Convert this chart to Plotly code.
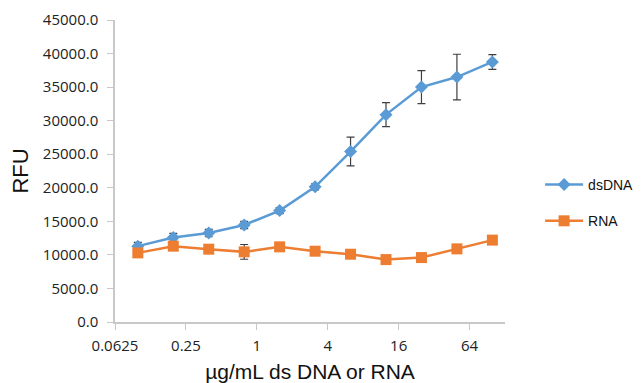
import plotly.graph_objects as go

conc = [0.09765625, 0.1953125, 0.390625, 0.78125, 1.5625, 3.125, 6.25, 12.5, 25, 50, 100]
dsdna = [11300, 12600, 13250, 14450, 16600, 20150, 25400, 30900, 35000, 36500, 38750]
dsdna_err = [550, 600, 550, 550, 450, 450, 2150, 1800, 2450, 3400, 1100]
rna = [10300, 11300, 10850, 10450, 11200, 10550, 10100, 9300, 9600, 10900, 12200]
rna_err = [300, 300, 300, 1100, 300, 300, 300, 550, 300, 300, 300]

xticks = [0.0625, 0.25, 1, 4, 16, 64]
xticklabels = ["0.0625", "0.25", "1", "4", "16", "64"]
yticks = [0, 5000, 10000, 15000, 20000, 25000, 30000, 35000, 40000, 45000]

BLUE = "#5B9BD5"
ORANGE = "#ED7D31"
ERR = "#404040"

fig = go.Figure()
fig.add_trace(go.Scatter(
    x=conc, y=dsdna, name="dsDNA", mode="lines+markers", legendgroup="a",
    line=dict(color=BLUE, width=2.5),
    marker=dict(symbol="diamond", size=10, color=BLUE),
    error_y=dict(type="data", array=dsdna_err, visible=True, color=ERR, thickness=1.2, width=4),
))
fig.add_trace(go.Scatter(
    x=conc, y=rna, name="RNA", mode="lines+markers", legendgroup="b",
    line=dict(color=ORANGE, width=2.5),
    marker=dict(symbol="square", size=11, color=ORANGE),
    error_y=dict(type="data", array=rna_err, visible=True, color=ERR, thickness=1.2, width=4),
))

# page body has an 8px default margin, so the figure is sized to fill the rest
fig.update_layout(
    width=635, height=375,
    margin=dict(l=107, r=138, t=12, b=61, autoexpand=False),
    paper_bgcolor="white", plot_bgcolor="white",
    font=dict(family="Open Sans, Liberation Sans, Arial", color="#222222", size=15),
    showlegend=True,
    legend=dict(x=1.09, y=0.394, xanchor="left", yanchor="middle",
                font=dict(family="Liberation Sans, Arial", size=14, color="#111111"),
                traceorder="grouped", tracegroupgap=15, itemwidth=38,
                bgcolor="rgba(0,0,0,0)"),
)
fig.update_xaxes(
    type="log", range=[-1.20412, 2.10721], automargin=False,
    tickvals=xticks, ticktext=xticklabels,
    showgrid=False, zeroline=False,
    showline=True, linecolor="#C8C8C8", linewidth=1.5,
    ticks="outside", ticklen=6, tickcolor="#C8C8C8", ticklabelstandoff=3,
    tickfont=dict(size=15, family="Open Sans", color="#222222"),
    title=dict(text="µg/mL ds DNA or RNA", font=dict(family="Liberation Sans, Arial", size=21, color="#111111")),
)
fig.update_yaxes(
    range=[0, 45000], tickvals=yticks, tickformat=".1f", automargin=False,
    showgrid=False, zeroline=False,
    showline=True, linecolor="#C8C8C8", linewidth=1.5,
    ticks="outside", ticklen=6, tickcolor="#C8C8C8", ticklabelstandoff=6,
    tickfont=dict(size=15, family="Open Sans", color="#222222"),
    title=dict(text="RFU", font=dict(family="Liberation Sans, Arial", size=22, color="#111111")),
)

fig.write_html("out.html")
